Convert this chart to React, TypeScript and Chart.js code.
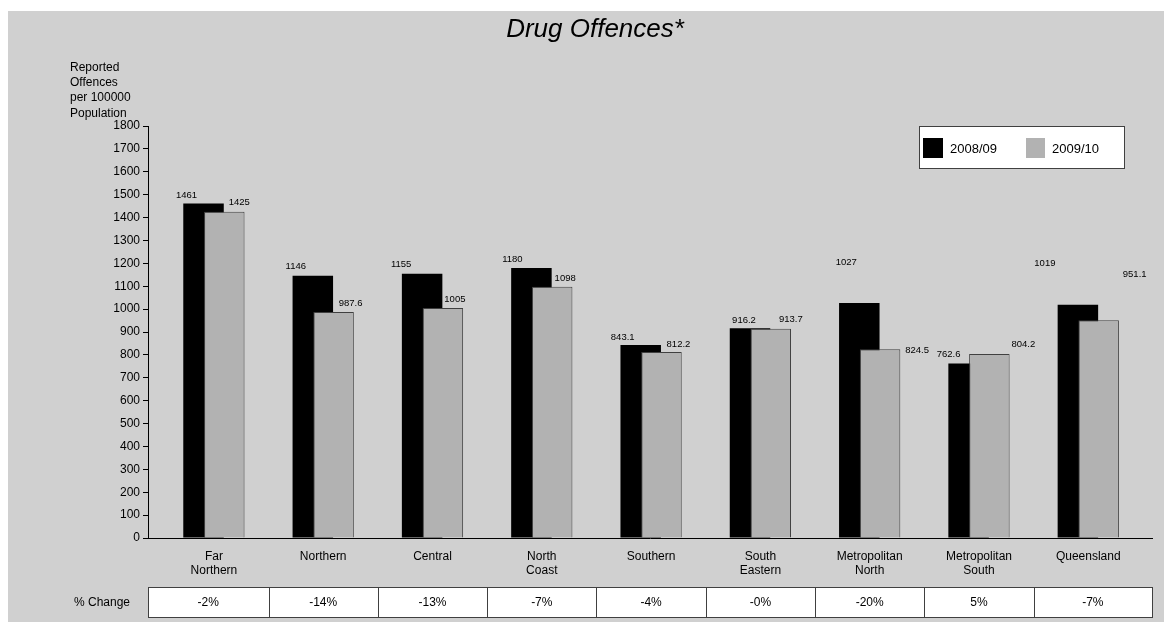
import React, { useEffect, useRef } from "react";
import { Chart, registerables } from "chart.js";

Chart.register(...registerables);

const categories: (string | string[])[] = [
  ["Far", "Northern"],
  "Northern",
  "Central",
  ["North", "Coast"],
  "Southern",
  ["South", "Eastern"],
  ["Metropolitan", "North"],
  ["Metropolitan", "South"],
  "Queensland",
];
const seriesNames = ["2008/09", "2009/10"];
const values2008 = [1461, 1146, 1155, 1180, 843.1, 916.2, 1027, 762.6, 1019];
const values2009 = [1425, 987.6, 1005, 1098, 812.2, 913.7, 824.5, 804.2, 951.1];
const pctChange = ["-2%", "-14%", "-13%", "-7%", "-4%", "-0%", "-20%", "5%", "-7%"];
const yMin = 0;
const yMax = 1800;
const yStep = 100;
const titleText = "Drug Offences*";
const yTitleLines = ["Reported", "Offences", "per 100000", "Population"];
const rowLabel = "% Change";

// label nudges (style only): offsets from bar centre / bar top
const labelDx2008 = [-17, -17, -21, -19, -18, -6, -13, -20, -33];
const labelDy2008 = [-8, -9, -9, -9, -8, -8, -41, -9, -41];
const labelDx2009 = [15, 17, 12, 13, 17, 20, 37, 34, 36];
const labelDy2009 = [-9, -9, -9, -8, -8, -9, 1, -10, -46];

// category axis range tweak (layout): left/right slack in category units
const xStart = -0.603;
const xRange = 9.186;

const FONT = "'Liberation Sans', Arial, sans-serif";
const BG = "#d0d0d0";
const BLACK = "#000000";
const GREY = "#b2b2b2";
const EDGE = "#404040";

const W = 1156;
const H = 611;

export default function App() {
  const ref = useRef<HTMLCanvasElement | null>(null);

  useEffect(() => {
    const canvas = ref.current;
    if (!canvas) return;

    const orderPlugin = {
      id: "overlapOrder",
      beforeDatasetDraw(chart: any, args: any) {
        if (args.index === 0) return false;
        if (args.index === 1) {
          chart.getDatasetMeta(0).controller.draw();
        }
        return true;
      },
    };

    const valueLabels = {
      id: "valueLabels",
      afterDatasetsDraw(chart: any) {
        const ctx = chart.ctx;
        ctx.save();
        ctx.font = `9.5px ${FONT}`;
        ctx.fillStyle = "#000";
        ctx.textAlign = "center";
        ctx.textBaseline = "middle";
        const sets = [
          { idx: 0, vals: values2008, dx: labelDx2008, dy: labelDy2008 },
          { idx: 1, vals: values2009, dx: labelDx2009, dy: labelDy2009 },
        ];
        sets.forEach((s) => {
          const meta = chart.getDatasetMeta(s.idx);
          meta.data.forEach((el: any, i: number) => {
            ctx.fillText(String(s.vals[i]), el.x + s.dx[i], el.y + s.dy[i]);
          });
        });
        ctx.restore();
      },
    };

    const decor = {
      id: "decor",
      afterDraw(chart: any) {
        const ctx = chart.ctx;
        const area = chart.chartArea;
        const xs = chart.scales.x;
        ctx.save();
        // title
        ctx.fillStyle = "#000";
        ctx.font = `italic 26px ${FONT}`;
        ctx.textAlign = "center";
        ctx.textBaseline = "alphabetic";
        ctx.fillText(titleText, 587, 26);
        // y title
        ctx.font = `12px ${FONT}`;
        ctx.textAlign = "left";
        ctx.textBaseline = "middle";
        yTitleLines.forEach((t, i) => ctx.fillText(t, 62, 56.5 + i * 15.3));
        // legend
        ctx.fillStyle = "#fff";
        ctx.fillRect(911.5, 115.5, 205, 42);
        ctx.strokeStyle = EDGE;
        ctx.lineWidth = 1;
        ctx.strokeRect(911.5, 115.5, 205, 42);
        ctx.fillStyle = BLACK;
        ctx.fillRect(915, 127, 20, 20);
        ctx.fillStyle = GREY;
        ctx.fillRect(1018, 127, 19, 20);
        ctx.fillStyle = "#000";
        ctx.font = `13px ${FONT}`;
        ctx.fillText(seriesNames[0], 942, 138);
        ctx.fillText(seriesNames[1], 1044, 138);
        // % change row
        const top = 576;
        const h = 30;
        const n = categories.length;
        const cw = xs.getPixelForTick(1) - xs.getPixelForTick(0);
        ctx.font = `12px ${FONT}`;
        ctx.textAlign = "right";
        ctx.fillText(rowLabel, 122, top + h / 2 + 1);
        for (let i = 0; i < n; i++) {
          const cx = xs.getPixelForTick(i);
          const a = i === 0 ? area.left : cx - cw / 2;
          const b = i === n - 1 ? area.right : cx + cw / 2;
          const x0 = Math.round(a) + 0.5;
          const x1 = Math.round(b) + 0.5;
          ctx.fillStyle = "#fff";
          ctx.fillRect(x0, top + 0.5, x1 - x0, h);
          ctx.strokeStyle = EDGE;
          ctx.strokeRect(x0, top + 0.5, x1 - x0, h);
          ctx.fillStyle = "#000";
          ctx.textAlign = "center";
          ctx.fillText(pctChange[i], (a + b) / 2, top + h / 2 + 1);
        }
        ctx.restore();
      },
    };

    const chart = new Chart(canvas, {
      type: "bar",
      data: {
        labels: categories as any,
        datasets: [
          {
            label: seriesNames[0],
            data: values2008,
            backgroundColor: BLACK,
            borderWidth: 0,
            categoryPercentage: 0.38,
            barPercentage: 1.95,
          },
          {
            label: seriesNames[1],
            data: values2009,
            backgroundColor: GREY,
            borderColor: EDGE,
            borderWidth: 1,
            categoryPercentage: 0.38,
            barPercentage: 1.95,
          },
        ],
      },
      options: {
        animation: false,
        responsive: false,
        devicePixelRatio: 1,
        layout: { padding: { top: 115, right: 12, left: 0, bottom: 0 } },
        plugins: {
          legend: { display: false },
          title: { display: false },
          tooltip: { enabled: false },
        },
        scales: {
          x: {
            grid: { display: true, drawOnChartArea: false, drawTicks: false },
            border: { color: "#000", width: 1 },
            ticks: {
              color: "#000",
              font: { size: 12, family: FONT },
              padding: 11,
              maxRotation: 0,
              autoSkip: false,
            },
            afterBuildTicks: (s: any) => {
              s._startValue = xStart;
              s._valueRange = xRange;
            },
            afterFit: (s: any) => {
              s.height = 84;
            },
          },
          y: {
            min: yMin,
            max: yMax,
            ticks: {
              stepSize: yStep,
              color: "#000",
              font: { size: 12, family: FONT },
              padding: 3,
              callback: (v: any) => String(v),
            },
            grid: { drawOnChartArea: false, tickLength: 5, color: "#000" },
            border: { color: "#000", width: 1 },
            afterFit: (s: any) => {
              s.width = 140;
            },
          },
        },
      },
      plugins: [orderPlugin, valueLabels, decor],
    });

    return () => chart.destroy();
  }, []);

  return (
    <div
      style={{
        position: "fixed",
        left: 8,
        top: 11,
        width: W,
        height: H,
        background: BG,
      }}
    >
      <canvas ref={ref} width={W} height={H} style={{ display: "block", width: W, height: H }} />
    </div>
  );
}
